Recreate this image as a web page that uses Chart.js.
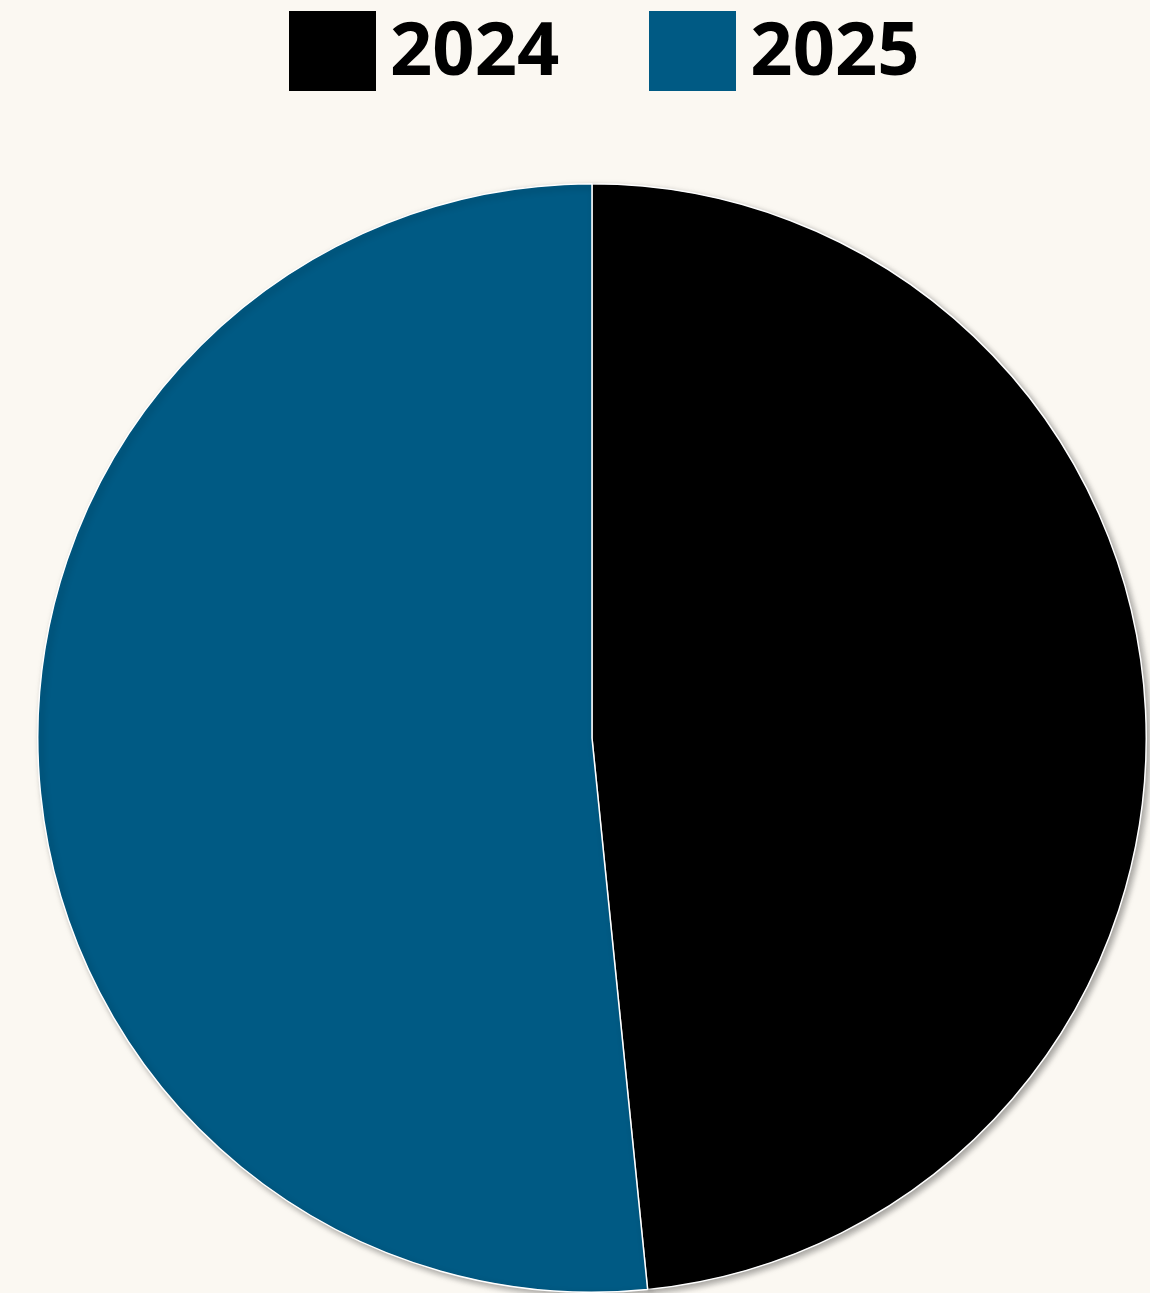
<!DOCTYPE html>
<html lang="en">
<head>
    <meta charset="UTF-8">
    <title>2024 vs 2025</title>
    <script src="https://cdn.jsdelivr.net/npm/chart.js"></script>
    <style>
        html, body {
            margin: 0;
            padding: 0;
            background-color: #fbf8f2;
        }
        .wrap {
            position: relative;
            width: 1150px;
            height: 1293px;
        }
        #legend {
            position: absolute;
            top: 11px;
            left: 289px;
            display: flex;
            font-family: "Noto Sans", sans-serif;
            font-weight: 700;
            font-size: 74px;
            color: #000;
        }
        .item {
            display: flex;
            align-items: center;
            margin-right: 90px;
        }
        .box {
            width: 87px;
            height: 80px;
            margin-right: 14px;
        }
        .item span {
            line-height: 80px;
            position: relative;
            top: -4px;
        }
        canvas {
            position: absolute;
            top: 0;
            left: 0;
        }
    </style>
</head>
<body>
    <div class="wrap">
        <div id="legend"></div>
        <canvas id="pieChart" width="1150" height="1293"></canvas>
    </div>

    <script>
        const years = ["2024", "2025"];
        const shares = [48.4, 51.6];
        const colors = ["#000000", "#005a84"];

        // legend built from the same arrays
        const legend = document.getElementById("legend");
        years.forEach((y, i) => {
            const item = document.createElement("div");
            item.className = "item";
            const box = document.createElement("div");
            box.className = "box";
            box.style.backgroundColor = colors[i];
            const txt = document.createElement("span");
            txt.textContent = y;
            item.appendChild(box);
            item.appendChild(txt);
            legend.appendChild(item);
        });

        const shadowPlugin = {
            id: "shadow",
            beforeDatasetsDraw(chart) {
                const ctx = chart.ctx;
                ctx.save();
                ctx.shadowColor = "rgba(0, 0, 0, 0.35)";
                ctx.shadowBlur = 6;
                ctx.shadowOffsetX = 3;
                ctx.shadowOffsetY = 3;
            },
            afterDatasetsDraw(chart) {
                chart.ctx.restore();
            }
        };

        new Chart(document.getElementById("pieChart"), {
            type: "pie",
            data: {
                labels: years,
                datasets: [{
                    data: shares,
                    backgroundColor: colors,
                    borderColor: "#ffffff",
                    borderWidth: 1.5
                }]
            },
            options: {
                responsive: false,
                animation: false,
                layout: {
                    padding: { top: 183, bottom: 0, left: 37, right: 3 }
                },
                plugins: {
                    legend: { display: false },
                    tooltip: { enabled: false }
                }
            },
            plugins: [shadowPlugin]
        });
    </script>
</body>
</html>
